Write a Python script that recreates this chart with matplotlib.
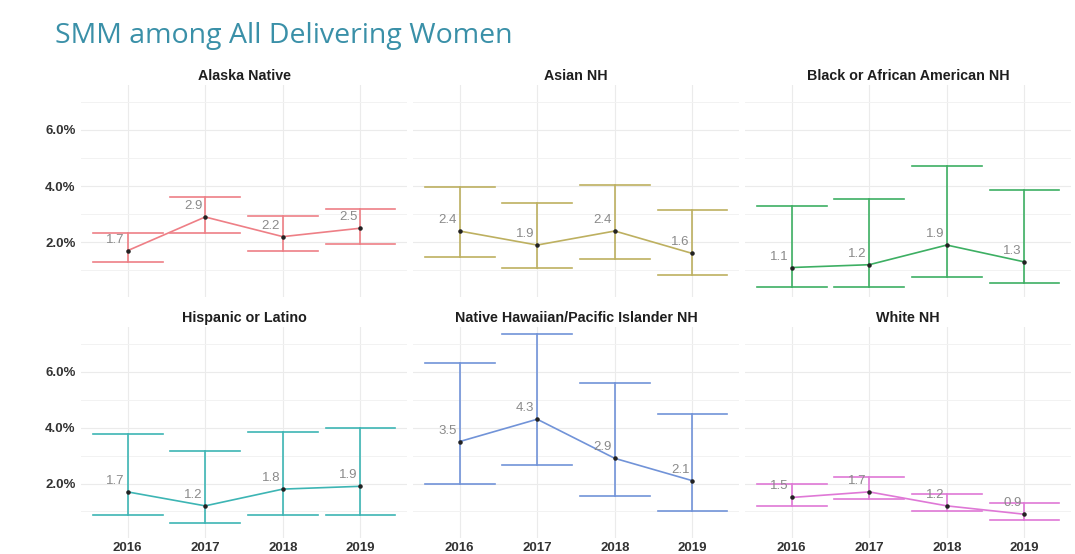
import matplotlib
matplotlib.use("Agg")
import matplotlib.pyplot as plt
from matplotlib.ticker import FixedLocator

# ---------------- data ----------------
years = ["2016", "2017", "2018", "2019"]
groups = ["Alaska Native", "Asian NH", "Black or African American NH",
          "Hispanic or Latino", "Native Hawaiian/Pacific Islander NH", "White NH"]

alaska_val = [1.7, 2.9, 2.2, 2.5]
alaska_lo = [1.28, 2.32, 1.68, 1.93]
alaska_hi = [2.32, 3.60, 2.93, 3.18]

asian_val = [2.4, 1.9, 2.4, 1.6]
asian_lo = [1.46, 1.07, 1.39, 0.82]
asian_hi = [3.96, 3.39, 4.04, 3.14]

black_val = [1.1, 1.2, 1.9, 1.3]
black_lo = [0.39, 0.39, 0.75, 0.54]
black_hi = [3.29, 3.54, 4.71, 3.86]

hisp_val = [1.7, 1.2, 1.8, 1.9]
hisp_lo = [0.89, 0.57, 0.89, 0.89]
hisp_hi = [3.76, 3.15, 3.86, 4.00]

nhpi_val = [3.5, 4.3, 2.9, 2.1]
nhpi_lo = [2.00, 2.65, 1.57, 1.03]
nhpi_hi = [6.30, 7.34, 5.58, 4.47]

white_val = [1.5, 1.7, 1.2, 0.9]
white_lo = [1.21, 1.43, 1.00, 0.71]
white_hi = [2.00, 2.25, 1.64, 1.32]

values = [alaska_val, asian_val, black_val, hisp_val, nhpi_val, white_val]
lows = [alaska_lo, asian_lo, black_lo, hisp_lo, nhpi_lo, white_lo]
highs = [alaska_hi, asian_hi, black_hi, hisp_hi, nhpi_hi, white_hi]

colors = ["#EE7F86", "#BDB060", "#3DAF63", "#3DB5B4", "#7193D8", "#DF78D6"]

major_y = [2, 4, 6]
minor_y = [1, 3, 5, 7]

# ---------------- figure ----------------
W, H = 1075, 554
fig = plt.figure(figsize=(W / 100, H / 100), dpi=100)
fig.patch.set_facecolor("white")

fig.text(55 / W, 1 - 43 / H, "SMM among All Delivering Women", fontsize=20.5,
         color="#3A90A8", family="Open Sans", va="baseline", ha="left")

col_x = [81, 413, 745]
col_w = 326
row_y = [(85, 297), (327, 538)]

tick_font = dict(family="Liberation Sans", fontsize=9.5, color="#333333",
                 fontweight="bold")

for i, g in enumerate(groups):
    r, c = divmod(i, 3)
    x0 = col_x[c]
    y_top, y_bot = row_y[r]
    ax = fig.add_axes([x0 / W, 1 - y_bot / H, col_w / W, (y_bot - y_top) / H])
    ax.set_facecolor("white")
    xs = list(range(len(years)))
    vals, lo, hi = values[i], lows[i], highs[i]
    col = colors[i]

    # error bars
    for x, l, h in zip(xs, lo, hi):
        ax.plot([x, x], [l, h], color=col, lw=1.2, zorder=3)
        ax.plot([x - 0.45, x + 0.45], [l, l], color=col, lw=1.2, zorder=3)
        ax.plot([x - 0.45, x + 0.45], [h, h], color=col, lw=1.2, zorder=3)
    ax.plot(xs, vals, color=col, lw=1.2, zorder=4)
    ax.scatter(xs, vals, s=5, color="#222222", zorder=5)
    for x, v in zip(xs, vals):
        ax.annotate(f"{v:.1f}", (x, v), xytext=(-12, 11), textcoords="offset pixels",
                    ha="center", va="center", fontsize=9.5, color="#8A8A8A",
                    family="Liberation Sans", zorder=6)

    ax.set_xlim(-0.6, 3.6)
    ax.set_ylim(0.05, 7.6)
    ax.yaxis.set_major_locator(FixedLocator(major_y))
    ax.yaxis.set_minor_locator(FixedLocator(minor_y))
    ax.xaxis.set_major_locator(FixedLocator(xs))
    ax.grid(True, which="major", color="#EBEBEB", lw=0.8, zorder=0)
    ax.grid(True, which="minor", axis="y", color="#F2F2F2", lw=0.7, zorder=0)
    ax.set_axisbelow(True)
    for s in ax.spines.values():
        s.set_visible(False)
    ax.tick_params(which="both", length=0)

    if c == 0:
        ax.set_yticklabels([f"{v:.1f}%" for v in major_y], **tick_font)
        ax.tick_params(axis="y", pad=4)
    else:
        ax.set_yticklabels([])
    if r == 1:
        ax.set_xticklabels(years, **tick_font)
        ax.tick_params(axis="x", pad=3)
    else:
        ax.set_xticklabels([])

    fig.text((x0 + col_w / 2) / W, 1 - (y_top - 9) / H, g, ha="center", va="center",
             fontsize=10.3, color="#1E1E1E", family="Liberation Sans",
             fontweight="bold")

fig.savefig("out.png", dpi=100, facecolor="white")
